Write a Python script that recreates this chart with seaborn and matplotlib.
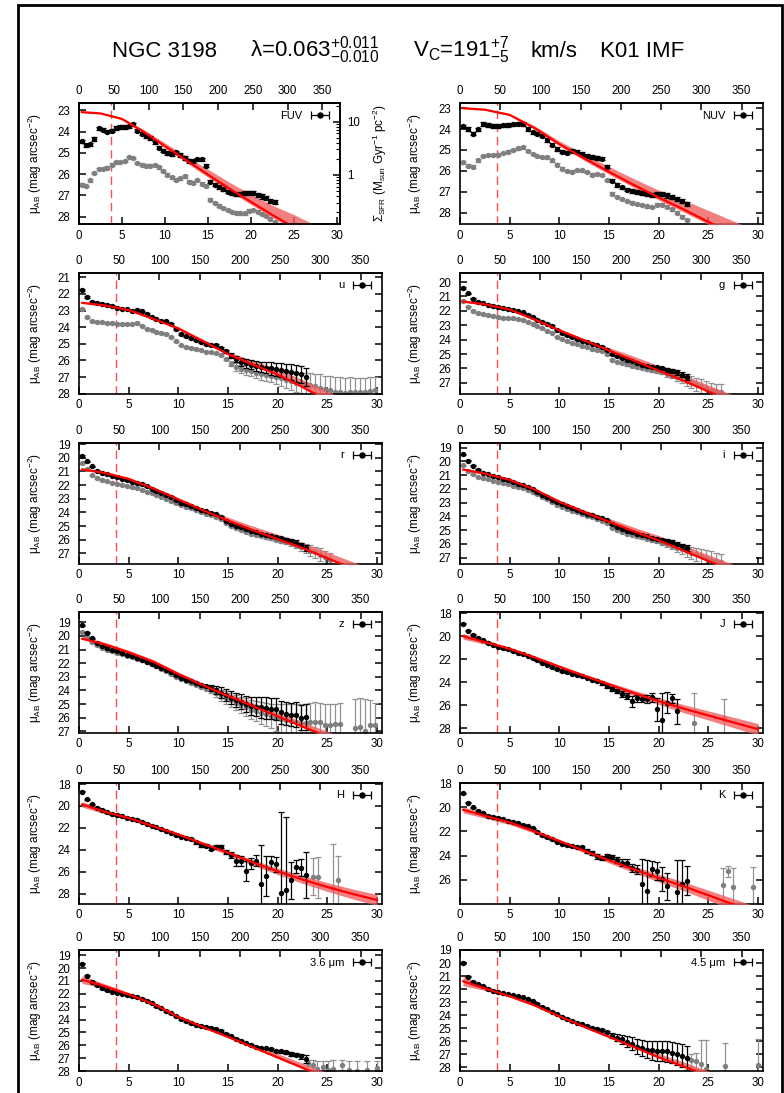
import numpy as np
import pandas as pd
import matplotlib
matplotlib.use("Agg")
import matplotlib.pyplot as plt
import seaborn as sns
from matplotlib.patches import Rectangle
from matplotlib.ticker import FixedLocator, NullFormatter, LogLocator
from matplotlib.container import ErrorbarContainer
from matplotlib.legend_handler import HandlerErrorbar

sns.set_style("ticks")
plt.rcParams["font.family"] = ["Liberation Sans", "DejaVu Sans"]
plt.rcParams["mathtext.fontset"] = "custom"
plt.rcParams["mathtext.rm"] = "Liberation Sans"
plt.rcParams["mathtext.it"] = "Liberation Sans:italic"
plt.rcParams["mathtext.bf"] = "Liberation Sans:bold"
plt.rcParams["axes.linewidth"] = 1.2
for key in ["text.color", "axes.labelcolor", "xtick.color", "ytick.color",
            "xtick.labelcolor", "ytick.labelcolor", "axes.edgecolor"]:
    plt.rcParams[key] = "black"

# ---------------- data ----------------
R = [0.3, 0.8, 1.3, 1.8, 2.3, 2.8, 3.3, 3.8, 4.3, 4.8,
     5.3, 5.8, 6.3, 6.8, 7.3, 7.8, 8.3, 8.8, 9.3, 9.8,
     10.3, 10.8, 11.3, 11.8, 12.3, 12.8, 13.3, 13.8, 14.3, 14.8,
     15.3, 15.8, 16.3, 16.8, 17.3, 17.8, 18.3, 18.8, 19.3, 19.8,
     20.3, 20.8, 21.3, 21.8, 22.3, 22.8, 23.3, 23.8, 24.3, 24.8,
     25.3, 25.8, 26.3, 26.8, 27.3, 27.8, 28.3, 28.8, 29.3, 29.8]
MODEL_R = [0.3, 2.5, 5.0, 7.5, 10.0, 12.5, 15.0, 17.5, 20.0, 22.5, 25.0, 27.5, 30.0]
R_BREAK = 3.7
ARCSEC_PER_KPC = 12.35
SFR_ZP = 26.03
TOP_TICKS = [0, 50, 100, 150, 200, 250, 300, 350]
BOTTOM_TICKS = [0, 5, 10, 15, 20, 25, 30]

# FUV
FUV_B = [24.45, 24.65, 24.6, 24.35, 23.85, 23.9, 24.0, 23.95, 23.82, 23.78,
         23.78, 23.75, 23.65, 23.95, 24.1, 24.2, 24.3, 24.5, 24.75, 24.9,
         25.0, 25.05, 24.98, 25.1, 25.25, 25.38, 25.4, 25.3, 25.3, 25.6,
         26.35, 26.5, 26.6, 26.72, 26.82, 26.9, 26.95, 26.95, 26.9, 26.87,
         26.88, 26.98, 27.05, 27.12, 27.25, 27.32]
FUV_BE = [0.08, 0.08, 0.08, 0.08, 0.08, 0.08, 0.08, 0.08, 0.08, 0.08,
          0.08, 0.08, 0.08, 0.08, 0.08, 0.08, 0.08, 0.08, 0.08, 0.08,
          0.08, 0.08, 0.08, 0.08, 0.08, 0.08, 0.08, 0.08, 0.08, 0.08,
          0.08, 0.08, 0.08, 0.08, 0.08, 0.08, 0.08, 0.09, 0.09, 0.09,
          0.1, 0.1, 0.1, 0.1, 0.1, 0.1]
FUV_G = [26.5, 26.55, 26.3, 25.95, 25.75, 25.75, 25.7, 25.55, 25.45, 25.42,
         25.38, 25.2, 25.25, 25.48, 25.55, 25.6, 25.6, 25.56, 25.68, 25.85,
         26.03, 26.15, 26.27, 26.2, 26.1, 26.35, 26.4, 26.27, 26.45, 26.55,
         27.2, 27.37, 27.48, 27.6, 27.7, 27.78, 27.82, 27.85, 27.85, 27.72,
         27.7, 27.77, 27.88, 27.98, 28.1, 28.25]
FUV_GE = [0.06, 0.06, 0.06, 0.06, 0.06, 0.06, 0.06, 0.06, 0.06, 0.06,
          0.06, 0.06, 0.06, 0.06, 0.06, 0.06, 0.06, 0.06, 0.06, 0.06,
          0.06, 0.06, 0.06, 0.06, 0.06, 0.06, 0.06, 0.06, 0.06, 0.06,
          0.06, 0.06, 0.06, 0.06, 0.06, 0.06, 0.06, 0.06, 0.06, 0.06,
          0.06, 0.06, 0.06, 0.06, 0.06, 0.06]
FUV_M = [23.08, 23.14, 23.4, 24.0, 24.68, 25.35, 26.02, 26.68, 27.3, 27.92, 28.5, 29.1, 29.7]
FUV_UP = [0.02, 0.03, 0.05, 0.1, 0.15, 0.2, 0.25, 0.3, 0.35, 0.45, 0.6, 0.7, 0.8]
FUV_DN = [0.02, 0.02, 0.03, 0.05, 0.08, 0.1, 0.12, 0.12, 0.12, 0.12, 0.12, 0.12, 0.12]

# NUV
NUV_B = [23.87, 24.0, 24.22, 24.02, 23.76, 23.8, 23.85, 23.85, 23.82, 23.8,
         23.77, 23.74, 23.75, 24.0, 24.15, 24.22, 24.32, 24.52, 24.75, 24.95,
         25.08, 25.13, 25.03, 25.08, 25.2, 25.29, 25.34, 25.38, 25.42, 25.8,
         26.48, 26.68, 26.8, 26.9, 26.97, 27.02, 27.06, 27.12, 27.17, 27.1,
         27.1, 27.18, 27.26, 27.36, 27.46, 27.58]
NUV_BE = FUV_BE
NUV_G = [25.6, 25.75, 25.8, 25.5, 25.3, 25.24, 25.24, 25.22, 25.15, 25.08,
         25.0, 24.92, 24.88, 25.05, 25.2, 25.29, 25.33, 25.36, 25.5, 25.7,
         25.9, 26.0, 26.04, 25.95, 25.98, 26.06, 26.18, 26.15, 26.2, 26.45,
         27.1, 27.25, 27.35, 27.45, 27.53, 27.6, 27.65, 27.7, 27.73, 27.62,
         27.62, 27.72, 27.85, 28.0, 28.2, 28.35]
NUV_GE = FUV_GE
NUV_M = [23.0, 23.07, 23.32, 23.95, 24.72, 25.4, 26.05, 26.68, 27.28, 27.85, 28.45, 29.05, 29.65]
NUV_UP = [0.02, 0.03, 0.05, 0.1, 0.15, 0.2, 0.25, 0.3, 0.35, 0.45, 0.55, 0.65, 0.75]
NUV_DN = FUV_DN

# u
U_B = [21.78, 22.2, 22.47, 22.56, 22.62, 22.67, 22.74, 22.82, 22.88, 22.93,
       23.0, 22.98, 23.05, 23.2, 23.41, 23.53, 23.6, 23.65, 23.8, 24.12,
       24.42, 24.55, 24.64, 24.76, 24.9, 25.0, 25.08, 25.08, 25.25, 25.45,
       25.72, 25.92, 26.1, 26.18, 26.25, 26.32, 26.4, 26.43, 26.47, 26.53,
       26.6, 26.64, 26.7, 26.78, 26.84, 26.98]
U_BE = [0.05, 0.05, 0.05, 0.05, 0.05, 0.05, 0.05, 0.05, 0.05, 0.05,
        0.05, 0.05, 0.05, 0.05, 0.05, 0.05, 0.05, 0.05, 0.05, 0.05,
        0.05, 0.05, 0.05, 0.05, 0.05, 0.05, 0.05, 0.05, 0.08, 0.1,
        0.15, 0.2, 0.22, 0.25, 0.28, 0.3, 0.32, 0.35, 0.38, 0.4,
        0.42, 0.45, 0.48, 0.5, 0.52, 0.55]
U_G = [22.9, 23.38, 23.64, 23.68, 23.71, 23.74, 23.76, 23.78, 23.8, 23.82,
       23.78, 23.76, 23.9, 24.08, 24.18, 24.28, 24.36, 24.42, 24.6, 24.85,
       25.1, 25.18, 25.26, 25.33, 25.4, 25.47, 25.52, 25.57, 25.68, 25.9,
       26.2, 26.4, 26.5, 26.57, 26.65, 26.73, 26.8, 26.87, 26.92, 26.97,
       27.06, 27.16, 27.25, 27.33, 27.38, 27.42, 27.48, 27.54, 27.64, 27.74,
       27.8, 27.88, 27.92, 27.94, 27.92, 27.9, 27.88, 27.88, 27.85, 27.8]
U_GE = [0.05, 0.05, 0.05, 0.05, 0.05, 0.05, 0.05, 0.05, 0.05, 0.05,
        0.05, 0.05, 0.05, 0.05, 0.05, 0.05, 0.05, 0.05, 0.05, 0.05,
        0.05, 0.05, 0.05, 0.05, 0.05, 0.05, 0.05, 0.05, 0.05, 0.05,
        0.15, 0.22, 0.25, 0.28, 0.3, 0.32, 0.35, 0.38, 0.4, 0.42,
        0.45, 0.48, 0.5, 0.55, 0.6, 0.65, 0.7, 0.75, 0.8, 0.82,
        0.85, 0.88, 0.9, 0.9, 0.9, 0.85, 0.85, 0.85, 0.85, 0.8]
U_M = [22.53, 22.68, 22.97, 23.5, 24.08, 24.85, 25.62, 26.25, 26.85, 27.6, 28.4, 29.2, 30.0]
U_UP = [0.05, 0.08, 0.1, 0.1, 0.1, 0.12, 0.15, 0.25, 0.35, 0.45, 0.55, 0.65, 0.75]
U_DN = [0.04, 0.04, 0.04, 0.04, 0.04, 0.04, 0.04, 0.04, 0.04, 0.04, 0.04, 0.04, 0.04]

# g
G_B = [20.4, 20.78, 21.15, 21.35, 21.47, 21.57, 21.65, 21.73, 21.8, 21.87,
       21.95, 22.03, 22.1, 22.26, 22.45, 22.61, 22.75, 22.89, 23.05, 23.3,
       23.55, 23.7, 23.83, 23.95, 24.06, 24.17, 24.28, 24.4, 24.52, 24.7,
       24.98, 25.15, 25.28, 25.4, 25.51, 25.62, 25.73, 25.82, 25.89, 25.93,
       25.99, 26.1, 26.18, 26.26, 26.42, 26.58]
G_BE = [0.05, 0.05, 0.05, 0.05, 0.05, 0.05, 0.05, 0.05, 0.05, 0.05,
        0.05, 0.05, 0.05, 0.05, 0.05, 0.05, 0.05, 0.05, 0.05, 0.05,
        0.05, 0.05, 0.05, 0.05, 0.05, 0.05, 0.05, 0.05, 0.05, 0.05,
        0.05, 0.05, 0.05, 0.05, 0.05, 0.05, 0.06, 0.06, 0.07, 0.08,
        0.1, 0.12, 0.14, 0.16, 0.18, 0.2]
G_G = [21.3, 21.7, 22.0, 22.15, 22.22, 22.28, 22.35, 22.43, 22.5, 22.5,
       22.52, 22.56, 22.62, 22.78, 22.92, 23.07, 23.22, 23.37, 23.52, 23.78,
       23.97, 24.08, 24.2, 24.32, 24.43, 24.54, 24.65, 24.73, 24.82, 25.0,
       25.4, 25.52, 25.62, 25.72, 25.8, 25.88, 25.96, 26.04, 26.12, 26.19,
       26.26, 26.38, 26.49, 26.6, 26.72, 26.84, 26.95, 27.1, 27.23, 27.38,
       27.48, 27.56, 27.65]
G_GE = [0.05, 0.05, 0.05, 0.05, 0.05, 0.05, 0.05, 0.05, 0.05, 0.05,
        0.05, 0.05, 0.05, 0.05, 0.05, 0.05, 0.05, 0.05, 0.05, 0.05,
        0.05, 0.05, 0.05, 0.05, 0.05, 0.05, 0.05, 0.05, 0.05, 0.05,
        0.06, 0.06, 0.07, 0.08, 0.08, 0.09, 0.1, 0.1, 0.12, 0.13,
        0.15, 0.18, 0.2, 0.25, 0.3, 0.35, 0.4, 0.45, 0.5, 0.5,
        0.5, 0.5, 0.55]
G_M = [21.35, 21.55, 21.9, 22.6, 23.35, 24.05, 24.75, 25.45, 26.15, 26.85, 27.6, 28.35, 29.1]
G_UP = [0.08, 0.08, 0.1, 0.1, 0.1, 0.12, 0.2, 0.3, 0.35, 0.4, 0.45, 0.5, 0.55]
G_DN = [0.05, 0.05, 0.05, 0.05, 0.05, 0.05, 0.05, 0.05, 0.05, 0.05, 0.05, 0.05, 0.05]

# r
RB_B = [19.88, 20.27, 20.64, 20.95, 21.1, 21.2, 21.32, 21.42, 21.52, 21.62,
        21.74, 21.84, 21.93, 22.1, 22.26, 22.42, 22.58, 22.72, 22.87, 23.12,
        23.3, 23.42, 23.55, 23.67, 23.79, 23.91, 24.03, 24.15, 24.32, 24.6,
        24.83, 24.97, 25.1, 25.22, 25.34, 25.45, 25.55, 25.64, 25.73, 25.82,
        25.9, 25.98, 26.07, 26.2, 26.38, 26.6]
RB_BE = G_BE
RB_G = [20.42, 20.85, 21.28, 21.49, 21.62, 21.73, 21.82, 21.9, 21.98, 22.05,
        22.13, 22.22, 22.34, 22.47, 22.59, 22.71, 22.85, 23.0, 23.17, 23.34,
        23.48, 23.59, 23.71, 23.84, 23.96, 24.08, 24.2, 24.33, 24.48, 24.75,
        25.02, 25.17, 25.3, 25.43, 25.55, 25.65, 25.73, 25.82, 25.9, 25.99,
        26.07, 26.16, 26.26, 26.38, 26.5, 26.65, 26.8, 26.93, 27.08, 27.29,
        27.45]
RB_GE = [0.05, 0.05, 0.05, 0.05, 0.05, 0.05, 0.05, 0.05, 0.05, 0.05,
         0.05, 0.05, 0.05, 0.05, 0.05, 0.05, 0.05, 0.05, 0.05, 0.05,
         0.05, 0.05, 0.05, 0.05, 0.05, 0.05, 0.05, 0.05, 0.05, 0.05,
         0.06, 0.06, 0.07, 0.08, 0.08, 0.09, 0.1, 0.1, 0.12, 0.13,
         0.15, 0.18, 0.2, 0.25, 0.3, 0.35, 0.4, 0.42, 0.45, 0.45,
         0.45]
RB_M = [20.85, 21.1, 21.55, 22.25, 23.05, 23.85, 24.6, 25.3, 25.95, 26.6, 27.35, 28.1, 28.85]
RB_UP = [0.1, 0.1, 0.1, 0.1, 0.12, 0.15, 0.25, 0.3, 0.35, 0.4, 0.45, 0.5, 0.55]
RB_DN = G_DN

# i
I_B = [19.5, 19.95, 20.33, 20.62, 20.82, 20.96, 21.08, 21.18, 21.28, 21.37,
       21.5, 21.62, 21.74, 21.86, 22.05, 22.25, 22.42, 22.6, 22.8, 22.98,
       23.12, 23.26, 23.4, 23.55, 23.68, 23.8, 23.92, 24.04, 24.16, 24.3,
       24.58, 24.75, 24.9, 25.04, 25.17, 25.28, 25.38, 25.47, 25.56, 25.63,
       25.72, 25.8, 25.9, 26.02, 26.17, 26.3]
I_BE = G_BE
I_G = [20.3, 20.7, 20.95, 21.12, 21.23, 21.32, 21.4, 21.49, 21.58, 21.67,
       21.77, 21.86, 21.96, 22.08, 22.24, 22.4, 22.58, 22.78, 22.98, 23.17,
       23.33, 23.47, 23.59, 23.71, 23.83, 23.95, 24.07, 24.19, 24.31, 24.5,
       24.82, 24.99, 25.14, 25.27, 25.38, 25.46, 25.53, 25.62, 25.72, 25.82,
       25.92, 26.04, 26.16, 26.28, 26.41, 26.54, 26.66, 26.78, 26.9, 27.03,
       27.15, 27.25, 27.35]
I_GE = [0.05, 0.05, 0.05, 0.05, 0.05, 0.05, 0.05, 0.05, 0.05, 0.05,
        0.05, 0.05, 0.05, 0.05, 0.05, 0.05, 0.05, 0.05, 0.05, 0.05,
        0.05, 0.05, 0.05, 0.05, 0.05, 0.05, 0.05, 0.05, 0.05, 0.05,
        0.06, 0.06, 0.07, 0.08, 0.08, 0.09, 0.1, 0.1, 0.12, 0.13,
        0.15, 0.2, 0.25, 0.3, 0.35, 0.4, 0.45, 0.5, 0.55, 0.55,
        0.6, 0.6, 0.6]
I_M = [20.6, 20.9, 21.35, 22.05, 22.95, 23.7, 24.4, 25.1, 25.75, 26.5, 27.25, 28.0, 28.75]
I_UP = RB_UP
I_DN = G_DN

# z
Z_B = [19.22, 19.76, 20.17, 20.5, 20.72, 20.88, 21.02, 21.14, 21.26, 21.38,
       21.5, 21.62, 21.75, 21.88, 22.03, 22.18, 22.33, 22.48, 22.68, 22.9,
       23.07, 23.2, 23.32, 23.44, 23.57, 23.69, 23.82, 23.97, 24.15, 24.35,
       24.52, 24.68, 24.84, 25.0, 25.12, 25.2, 25.25, 25.28, 25.33, 25.37,
       25.6, 25.72, 25.78, 25.78, 26.0, 25.95]
Z_BE = [0.05, 0.05, 0.05, 0.05, 0.05, 0.05, 0.05, 0.05, 0.05, 0.05,
        0.05, 0.05, 0.05, 0.05, 0.05, 0.05, 0.05, 0.05, 0.05, 0.05,
        0.05, 0.05, 0.05, 0.05, 0.05, 0.05, 0.2, 0.3, 0.4, 0.45,
        0.5, 0.5, 0.55, 0.6, 0.65, 0.7, 0.75, 0.8, 0.8, 0.8,
        0.85, 0.85, 0.85, 0.9, 0.9, 0.95]
Z_G = [19.7, 20.1, 20.45, 20.7, 20.87, 21.0, 21.12, 21.25, 21.35, 21.44,
       21.53, 21.66, 21.79, 21.93, 22.08, 22.24, 22.4, 22.6, 22.82, 22.98,
       23.13, 23.28, 23.44, 23.6, 23.74, 23.86, 23.98, 24.15, 24.35, 24.52,
       24.72, 24.9, 25.08, 25.23, 25.4, 25.52, 25.63, 25.75, 25.87, 26.0,
       26.12, 26.2, 26.27, 26.33, 26.39, 26.37, 26.34, 26.28, 26.35, 26.5,
       26.52, 26.48, 26.44, np.nan, np.nan, 26.76, 26.68, 27.0, 26.51, 26.51]
Z_GE = [0.05, 0.05, 0.05, 0.05, 0.05, 0.05, 0.05, 0.05, 0.05, 0.05,
        0.05, 0.05, 0.05, 0.05, 0.05, 0.05, 0.05, 0.05, 0.05, 0.05,
        0.05, 0.05, 0.05, 0.05, 0.05, 0.05, 0.2, 0.3, 0.4, 0.45,
        0.5, 0.55, 0.6, 0.65, 0.7, 0.75, 0.8, 0.85, 0.9, 1.0,
        1.1, 1.2, 1.3, 1.35, 1.4, 1.4, 1.4, 1.4, 1.4, 1.5,
        1.5, 1.5, 1.5, 1.6, 1.6, 2.1, 2.1, 2.4, 1.8, 1.6]
Z_M = [20.2, 20.6, 21.2, 21.9, 22.8, 23.62, 24.4, 25.15, 25.9, 26.65, 27.4, 28.15, 28.9]
Z_UP = [0.15, 0.15, 0.15, 0.15, 0.15, 0.15, 0.2, 0.25, 0.3, 0.35, 0.4, 0.45, 0.5]
Z_DN = G_DN

# J
J_B = [18.9, 19.5, 19.88, 20.15, 20.36, 20.55, 20.73, 20.9, 21.02, 21.13,
       21.28, 21.42, 21.56, 21.71, 21.9, 22.1, 22.3, 22.49, 22.68, 22.87,
       23.02, 23.14, 23.25, 23.35, 23.48, 23.62, 23.77, 23.92, 24.1, 24.35,
       24.6, 24.78, 25.0, 25.2, 25.68, 25.4, 25.45, 25.48, 25.3, 26.35,
       27.33, 25.77, 25.39, 26.55]
J_BE = [0.05, 0.05, 0.05, 0.05, 0.05, 0.05, 0.05, 0.05, 0.05, 0.05,
        0.05, 0.05, 0.05, 0.05, 0.05, 0.05, 0.05, 0.05, 0.05, 0.05,
        0.05, 0.05, 0.05, 0.05, 0.05, 0.05, 0.05, 0.05, 0.12, 0.15,
        0.18, 0.2, 0.25, 0.3, 0.5, 0.3, 0.3, 0.35, 0.4, 1.0,
        2.4, 0.9, 0.4, 1.1]
J_GR = [23.6, 26.6]
J_G = [27.57, 27.13]
J_GE = [2.6, 1.65]
J_M = [20.0, 20.5, 21.1, 21.85, 22.65, 23.45, 24.2, 24.95, 25.65, 26.3, 26.9, 27.5, 28.1]
J_UP = [0.25, 0.2, 0.15, 0.15, 0.15, 0.18, 0.2, 0.25, 0.3, 0.35, 0.4, 0.45, 0.5]
J_DN = J_UP

# H
H_B = [18.71, 19.4, 19.85, 20.15, 20.38, 20.58, 20.72, 20.82, 20.94, 21.05,
       21.17, 21.29, 21.42, 21.62, 21.8, 21.95, 22.1, 22.25, 22.42, 22.65,
       22.8, 22.9, 23.0, 23.3, 23.57, 23.6, 23.9, 23.7, 23.72, 24.2,
       24.45, 25.0, 25.0, 25.93, 25.22, 25.0, 27.07, 26.39, 25.12, 25.31,
       27.91, 27.69, 26.76, 25.52, 25.62, 26.3]
H_BE = [0.06, 0.06, 0.06, 0.06, 0.06, 0.06, 0.06, 0.06, 0.06, 0.06,
        0.06, 0.06, 0.06, 0.06, 0.06, 0.06, 0.06, 0.06, 0.06, 0.06,
        0.06, 0.06, 0.06, 0.15, 0.15, 0.15, 0.15, 0.15, 0.15, 0.2,
        0.25, 0.5, 0.45, 0.9, 0.5, 0.5, 3.5, 1.8, 0.6, 0.7,
        7.4, 6.7, 1.7, 0.6, 0.8, 2.1]
H_GR = [23.6, 24.1, 25.6, 26.1]
H_G = [26.45, 26.5, 27.47, 26.76]
H_GE = [1.7, 1.85, 4.0, 2.2]
H_M = [19.85, 20.5, 21.1, 21.85, 22.6, 23.45, 24.25, 25.15, 25.95, 26.7, 27.38, 28.0, 28.56]
H_UP = J_UP
H_DN = J_UP

# K
K_B = [18.84, 19.6, 20.0, 20.3, 20.5, 20.68, 20.8, 20.9, 21.0, 21.1,
       21.2, 21.32, 21.44, 21.58, 21.75, 22.05, 22.28, 22.48, 22.65, 22.85,
       23.0, 23.12, 23.22, 23.25, 23.32, 23.6, 23.8, 24.05, 24.2, 24.04,
       24.12, 24.4, 24.6, 24.6, 25.02, 25.16, 26.37, 26.93, 25.08, 25.25,
       25.92, 26.57, np.nan, 26.99, 26.37, 26.09]
K_BE = [0.06, 0.06, 0.06, 0.06, 0.06, 0.06, 0.06, 0.06, 0.06, 0.06,
        0.06, 0.06, 0.06, 0.06, 0.06, 0.06, 0.06, 0.06, 0.06, 0.06,
        0.06, 0.06, 0.06, 0.06, 0.15, 0.15, 0.15, 0.2, 0.2, 0.2,
        0.2, 0.25, 0.3, 0.3, 0.35, 0.4, 2.05, 2.6, 0.65, 0.75,
        1.0, 1.1, 0.0, 2.6, 2.0, 1.2]
K_GR = [26.5, 27.0, 27.5, 29.5]
K_G = [26.43, 25.3, 26.65, 26.65]
K_GE = [1.4, 0.45, 1.6, 1.7]
K_M = [20.2, 20.7, 21.25, 22.0, 22.8, 23.6, 24.4, 25.15, 25.87, 26.55, 27.3, 28.05, 28.8]
K_UP = [0.25, 0.2, 0.18, 0.15, 0.15, 0.18, 0.22, 0.27, 0.32, 0.37, 0.42, 0.47, 0.52]
K_DN = K_UP

# 3.6 micron
I1_B = [19.65, 20.6, 21.05, 21.35, 21.55, 21.72, 21.84, 21.92, 21.99, 22.08,
        22.17, 22.27, 22.38, 22.55, 22.75, 22.95, 23.14, 23.33, 23.53, 23.75,
        23.95, 24.11, 24.26, 24.39, 24.5, 24.58, 24.67, 24.77, 24.9, 25.1,
        25.3, 25.5, 25.68, 25.84, 25.99, 26.1, 26.18, 26.24, 26.3, 26.46,
        26.48, 26.55, 26.68, 26.72, 26.85, 27.05]
I1_BE = [0.05, 0.05, 0.05, 0.05, 0.05, 0.05, 0.05, 0.05, 0.05, 0.05,
         0.05, 0.05, 0.05, 0.05, 0.05, 0.05, 0.05, 0.05, 0.05, 0.05,
         0.05, 0.05, 0.05, 0.05, 0.05, 0.05, 0.05, 0.05, 0.05, 0.05,
         0.05, 0.05, 0.05, 0.05, 0.05, 0.05, 0.05, 0.05, 0.08, 0.1,
         0.1, 0.1, 0.12, 0.12, 0.2, 0.3]
I1_GR = [23.1, 23.6, 24.0, 24.6, 25.1, 25.6, 26.5, 27.2, 28.0, 29.0, 30.0]
I1_G = [27.38, 27.56, 27.82, 27.69, 27.9, 27.82, 27.56, 27.95, 28.0, 27.9, 27.75]
I1_GE = [0.25, 0.4, 0.6, 0.5, 0.7, 0.65, 0.4, 0.75, 0.8, 0.7, 0.55]
I1_M = [20.9, 21.4, 22.05, 22.8, 23.8, 24.6, 25.35, 26.15, 26.95, 27.75, 28.55, 29.35, 30.15]
I1_UP = [0.3, 0.2, 0.15, 0.12, 0.12, 0.15, 0.2, 0.25, 0.3, 0.35, 0.4, 0.45, 0.5]
I1_DN = [0.3, 0.15, 0.08, 0.06, 0.06, 0.06, 0.06, 0.06, 0.06, 0.06, 0.06, 0.06, 0.06]

# 4.5 micron
I2_B = [20.0, 21.05, 21.45, 21.65, 21.8, 22.0, 22.13, 22.25, 22.33, 22.41,
        22.48, 22.56, 22.65, 22.78, 22.95, 23.15, 23.35, 23.55, 23.74, 23.94,
        24.12, 24.3, 24.46, 24.58, 24.7, 24.83, 24.96, 25.07, 25.16, 25.3,
        25.6, 25.74, 25.86, 26.04, 26.22, 26.42, 26.55, 26.65, 26.72, 26.78,
        26.78, 26.8, 26.88, 26.99, 27.11, 27.3]
I2_BE = [0.05, 0.05, 0.05, 0.05, 0.05, 0.05, 0.05, 0.05, 0.05, 0.05,
         0.05, 0.05, 0.05, 0.05, 0.05, 0.05, 0.05, 0.05, 0.05, 0.05,
         0.05, 0.05, 0.05, 0.05, 0.05, 0.05, 0.05, 0.05, 0.05, 0.05,
         0.2, 0.25, 0.35, 0.4, 0.5, 0.55, 0.6, 0.65, 0.7, 0.75,
         0.75, 0.78, 0.8, 0.85, 0.9, 0.95]
I2_GR = [23.3, 23.8, 24.3, 24.8, 26.7, 30.0]
I2_G = [27.49, 27.52, 27.75, 28.13, 27.92, 27.85]
I2_GE = [0.5, 0.6, 1.8, 2.2, 1.8, 2.0]
I2_M = [21.4, 21.95, 22.55, 23.25, 24.1, 24.9, 25.68, 26.45, 27.25, 27.95, 28.7, 29.45, 30.2]
I2_UP = [0.35, 0.2, 0.15, 0.12, 0.12, 0.15, 0.2, 0.25, 0.3, 0.35, 0.4, 0.45, 0.5]
I2_DN = [0.35, 0.15, 0.08, 0.06, 0.06, 0.06, 0.06, 0.06, 0.06, 0.06, 0.06, 0.06, 0.06]

PANELS = [
    dict(label="FUV", b=FUV_B, be=FUV_BE, g=FUV_G, ge=FUV_GE, m=FUV_M, up=FUV_UP, dn=FUV_DN,
         ylim=(28.35, 22.65), yt=[23, 24, 25, 26, 27, 28]),
    dict(label="NUV", b=NUV_B, be=NUV_BE, g=NUV_G, ge=NUV_GE, m=NUV_M, up=NUV_UP, dn=NUV_DN,
         ylim=(28.55, 22.75), yt=[23, 24, 25, 26, 27, 28]),
    dict(label="u", b=U_B, be=U_BE, g=U_G, ge=U_GE, m=U_M, up=U_UP, dn=U_DN,
         ylim=(28.0, 20.72), yt=[21, 22, 23, 24, 25, 26, 27, 28]),
    dict(label="g", b=G_B, be=G_BE, g=G_G, ge=G_GE, m=G_M, up=G_UP, dn=G_DN,
         ylim=(27.75, 19.35), yt=[20, 21, 22, 23, 24, 25, 26, 27]),
    dict(label="r", b=RB_B, be=RB_BE, g=RB_G, ge=RB_GE, m=RB_M, up=RB_UP, dn=RB_DN,
         ylim=(27.75, 18.9), yt=[19, 20, 21, 22, 23, 24, 25, 26, 27]),
    dict(label="i", b=I_B, be=I_BE, g=I_G, ge=I_GE, m=I_M, up=I_UP, dn=I_DN,
         ylim=(27.45, 18.65), yt=[19, 20, 21, 22, 23, 24, 25, 26, 27]),
    dict(label="z", b=Z_B, be=Z_BE, g=Z_G, ge=Z_GE, m=Z_M, up=Z_UP, dn=Z_DN,
         ylim=(27.1, 18.22), yt=[19, 20, 21, 22, 23, 24, 25, 26, 27]),
    dict(label="J", b=J_B, be=J_BE, g=J_G, ge=J_GE, gr=J_GR, m=J_M, up=J_UP, dn=J_DN,
         ylim=(28.4, 17.86), yt=[18, 20, 22, 24, 26, 28]),
    dict(label="H", b=H_B, be=H_BE, g=H_G, ge=H_GE, gr=H_GR, m=H_M, up=H_UP, dn=H_DN,
         ylim=(28.9, 17.88), yt=[18, 20, 22, 24, 26, 28]),
    dict(label="K", b=K_B, be=K_BE, g=K_G, ge=K_GE, gr=K_GR, m=K_M, up=K_UP, dn=K_DN,
         ylim=(28.0, 17.95), yt=[18, 20, 22, 24, 26]),
    dict(label="3.6 μm", b=I1_B, be=I1_BE, g=I1_G, ge=I1_GE, gr=I1_GR, m=I1_M, up=I1_UP, dn=I1_DN,
         ylim=(28.0, 18.6), yt=[19, 20, 21, 22, 23, 24, 25, 26, 27, 28]),
    dict(label="4.5 μm", b=I2_B, be=I2_BE, g=I2_G, ge=I2_GE, gr=I2_GR, m=I2_M, up=I2_UP, dn=I2_DN,
         ylim=(28.3, 19.0), yt=[19, 20, 21, 22, 23, 24, 25, 26, 27, 28]),
]

# ---------------- layout ----------------
FIG_W, FIG_H = 784, 1093
COL_LEFT = [79, 460]
AX_W = 303
FUV_W = 261
ROW_TOP = [103, 272.7, 442.7, 611.7, 782.7, 950]
AX_H = 121
YLABEL_X = [44, 424]

BLACK = "#000000"
GRAY = "#7f7f7f"
GRAY_ERR = "#929292"
BAND = "#f06060"
LINE = "#ff0000"
DASH = "#ff4d4d"

fig = plt.figure(figsize=(FIG_W / 100, FIG_H / 100), dpi=100)


def series_frame(rad, mu, err):
    n = min(len(rad), len(mu), len(err))
    df = pd.DataFrame({"r": np.asarray(rad[:n], float),
                       "mu": np.asarray(mu[:n], float),
                       "err": np.asarray(err[:n], float)})
    return df.dropna()


def draw_points(ax, df, color, ecolor, z):
    ax.errorbar(df["r"], df["mu"], yerr=df["err"], fmt="none", ecolor=ecolor,
                elinewidth=0.9, capsize=2.3, capthick=0.9, zorder=z)
    sns.scatterplot(data=df, x="r", y="mu", ax=ax, color=color, s=15,
                    linewidth=0, legend=False, zorder=z + 0.5)


for k, p in enumerate(PANELS):
    row, col = divmod(k, 2)
    left = COL_LEFT[col]
    width = FUV_W if k == 0 else AX_W
    top = ROW_TOP[row]
    ax = fig.add_axes([left / FIG_W, 1 - (top + AX_H) / FIG_H, width / FIG_W, AX_H / FIG_H])

    # gray profile
    gr = p.get("gr", R)
    draw_points(ax, series_frame(gr, p["g"], p["ge"]), GRAY, GRAY_ERR, 2)

    # model band and line
    dfm = pd.DataFrame({"r": MODEL_R, "mu": p["m"]})
    lo = np.asarray(p["m"]) - np.asarray(p["up"])
    hi = np.asarray(p["m"]) + np.asarray(p["dn"])
    ax.fill_between(dfm["r"], lo, hi, color=BAND, alpha=0.8, lw=0, zorder=3)

    # black profile
    draw_points(ax, series_frame(R, p["b"], p["be"]), BLACK, BLACK, 5)

    sns.lineplot(data=dfm, x="r", y="mu", ax=ax, color=LINE, lw=1.6,
                 estimator=None, sort=False, zorder=7)

    ax.axvline(R_BREAK, color=DASH, lw=1.0, ls=(0, (6, 3.5)), zorder=1)

    xmax = 30.4 if k == 0 else 30.5
    ax.set_xlim(0, xmax)
    ax.set_ylim(*p["ylim"])
    ax.set_xticks(BOTTOM_TICKS)
    ax.set_yticks(p["yt"])
    ax.set_xlabel("")
    ax.set_ylabel("μ$_{\\rm AB}$ (mag arcsec$^{-2}$)", fontsize=8.5, color="black")
    ax.yaxis.set_label_coords((YLABEL_X[col] - left) / width, 0.5)
    ax.tick_params(axis="both", which="major", direction="in", length=5, width=1.1,
                   labelsize=8.3, top=False, right=(k != 0), color="black",
                   labelcolor="black")
    ax.tick_params(axis="y", pad=6)
    ax.tick_params(axis="x", pad=4)
    for s in ax.spines.values():
        s.set_linewidth(1.2)
        s.set_color("black")

    sec = ax.secondary_xaxis("top", functions=(lambda r: r * ARCSEC_PER_KPC,
                                               lambda a: a / ARCSEC_PER_KPC))
    sec.set_xticks(TOP_TICKS)
    sec.tick_params(direction="in", length=5, width=1.1, labelsize=8.3, pad=4,
                    color="black", labelcolor="black")
    sec.spines["top"].set_linewidth(1.2)

    # legend with errorbar-style handle
    h = ax.errorbar([np.nan], [np.nan], xerr=[[1.0], [1.0]], fmt="o", color="black",
                    ms=3.6, capsize=2.8, elinewidth=0.9, capthick=0.9)
    ax.legend([h], [p["label"]], loc="upper right", frameon=False, fontsize=8,
              markerfirst=False, handlelength=2.2, handletextpad=0.5,
              borderaxespad=0.4, borderpad=0.3, labelcolor="black",
              handler_map={ErrorbarContainer: HandlerErrorbar(xerr_size=0.85)})

    if k == 0:
        ax2 = ax.twinx()
        y0, y1 = p["ylim"]
        ax2.set_yscale("log")
        ax2.set_ylim(10 ** (-0.4 * (y0 - SFR_ZP)), 10 ** (-0.4 * (y1 - SFR_ZP)))
        ax2.yaxis.set_major_locator(FixedLocator([1, 10]))
        ax2.set_yticklabels(["1", "10"])
        ax2.yaxis.set_minor_locator(LogLocator(base=10, subs=np.arange(2, 10)))
        ax2.yaxis.set_minor_formatter(NullFormatter())
        ax2.tick_params(which="major", direction="in", length=5, width=1.1, labelsize=8.3,
                        pad=5, color="black", labelcolor="black")
        ax2.tick_params(which="minor", direction="in", length=3, width=0.8, color="black")
        ax2.set_ylabel("Σ$_{\\rm SFR}$ (M$_{\\rm sun}$ Gyr$^{-1}$ pc$^{-2}$)", fontsize=8.5,
                       color="black")
        ax2.yaxis.set_label_coords((371 - left) / width, 0.5)

# title
ty = 1 - 57 / FIG_H
fig.text(112 / FIG_W, ty, "NGC 3198", fontsize=16, va="baseline", color="black")
fig.text(250 / FIG_W, ty, "λ=$0.063^{+0.011}_{-0.010}$", fontsize=16, va="baseline", color="black")
fig.text(413 / FIG_W, ty, "V$_{\\rm C}$=$191^{+7}_{-5}$", fontsize=16, va="baseline", color="black")
fig.text(530 / FIG_W, ty, "km/s", fontsize=16, va="baseline", color="black")
fig.text(600 / FIG_W, ty, "K01 IMF", fontsize=16, va="baseline", color="black")

# outer frame
fig.add_artist(Rectangle((18 / FIG_W, -0.02), (782 - 18) / FIG_W, 1.02 - 5 / FIG_H,
                         transform=fig.transFigure, fill=False, lw=2, ec="black"))

fig.savefig("out.png", dpi=100)
